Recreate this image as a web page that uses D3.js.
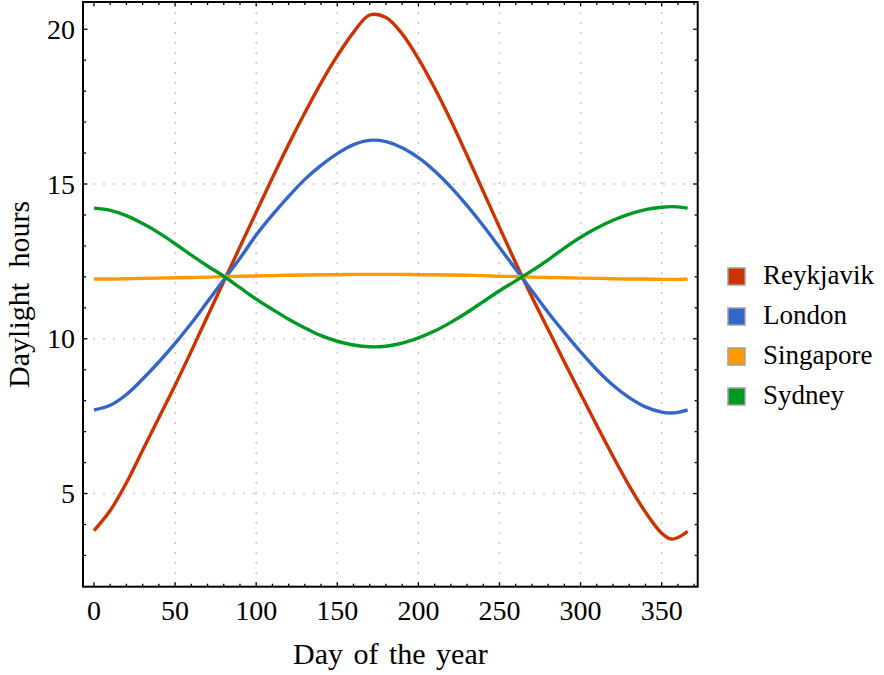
<!DOCTYPE html>
<html>
<head>
<meta charset="utf-8">
<script src="https://cdn.jsdelivr.net/npm/d3@7"></script>
<style>
    body { margin: 0; background: #fff; }
    text { font-family: "Liberation Serif", "Times New Roman", serif; fill: #000; }
</style>
</head>
<body>
<div id="plot"></div>
<script>
let days = [0, 10, 20, 30, 40, 50, 60, 70, 80, 90, 100, 110, 120, 130, 140, 150, 160, 170,
    180, 190, 200, 210, 220, 230, 240, 250, 260, 270, 280, 290, 300, 310, 320, 330, 340, 350, 356, 360, 366];

let reykjavik = [3.8, 4.45, 5.35, 6.4, 7.45, 8.5, 9.6, 10.73, 11.85, 12.97, 14.09, 15.2, 16.28, 17.3, 18.27, 19.14, 19.9, 20.46,
    20.38, 19.85, 19.05, 18.1, 17.05, 15.92, 14.76, 13.6, 12.45, 11.35, 10.3, 9.25, 8.22, 7.2, 6.2, 5.25, 4.4, 3.72, 3.53, 3.58, 3.78];
let london = [7.7, 7.85, 8.2, 8.7, 9.25, 9.85, 10.5, 11.2, 11.9, 12.6, 13.35, 14.0, 14.6, 15.15, 15.6, 15.98, 16.27, 16.41,
    16.37, 16.17, 15.85, 15.42, 14.9, 14.3, 13.65, 12.95, 12.25, 11.55, 10.85, 10.2, 9.58, 9.0, 8.5, 8.1, 7.8, 7.63, 7.6, 7.62, 7.7];
let singapore = [11.93, 11.93, 11.94, 11.95, 11.96, 11.97, 11.98, 11.99, 12.01, 12.02, 12.03, 12.04, 12.05, 12.06, 12.07, 12.07, 12.08, 12.08,
    12.08, 12.08, 12.07, 12.07, 12.06, 12.05, 12.04, 12.02, 12.01, 11.99, 11.98, 11.97, 11.96, 11.95, 11.94, 11.93, 11.93, 11.92, 11.92, 11.92, 11.93];
let sydney = [14.22, 14.15, 13.98, 13.72, 13.42, 13.07, 12.7, 12.35, 12.02, 11.65, 11.28, 10.95, 10.63, 10.35, 10.1, 9.92, 9.8, 9.74,
    9.76, 9.86, 10.03, 10.25, 10.53, 10.85, 11.2, 11.55, 11.87, 12.2, 12.55, 12.93, 13.28, 13.58, 13.83, 14.03, 14.17, 14.25, 14.27, 14.26, 14.22];

let cities = ['Reykjavik', 'London', 'Singapore', 'Sydney'];
let colors = ['#cc3300', '#3366cc', '#ff9900', '#009922'];

let xTicks = [0, 50, 100, 150, 200, 250, 300, 350];
let yTicks = [5, 10, 15, 20];
let xGrid = [50, 100, 150, 200, 250, 300, 350];
let yGrid = [5, 10, 15];

let svgWidth = 884;
let svgHeight = 675;

let frame = { left: 83, top: 2, right: 697.7, bottom: 586.7 };

let $svg = d3.select('#plot')
    .append('svg')
    .attr('width', svgWidth)
    .attr('height', svgHeight);

let xScale = d3.scaleLinear()
    .domain([-6.78, 372.2])
    .range([frame.left, frame.right]);

let yScale = d3.scaleLinear()
    .domain([1.99, 20.88])
    .range([frame.bottom, frame.top]);

// dotted grid
$svg.append('g').selectAll('line')
    .data(xGrid)
    .enter()
    .append('line')
    .attr('x1', d => xScale(d))
    .attr('x2', d => xScale(d))
    .attr('y1', frame.top)
    .attr('y2', frame.bottom)
    .attr('stroke', '#c8c8c8')
    .attr('stroke-width', 1.6)
    .attr('stroke-dasharray', '2,8');

$svg.append('g').selectAll('line')
    .data(yGrid)
    .enter()
    .append('line')
    .attr('x1', frame.left)
    .attr('x2', frame.right)
    .attr('y1', d => yScale(d))
    .attr('y2', d => yScale(d))
    .attr('stroke', '#c8c8c8')
    .attr('stroke-width', 1.6)
    .attr('stroke-dasharray', '2,8');

// lines
let seriesData = [reykjavik, london, singapore, sydney];

let line = d3.line()
    .x((d, i) => xScale(days[i]))
    .y(d => yScale(d))
    .curve(d3.curveCatmullRom.alpha(0.5));

$svg.append('g').selectAll('path')
    .data(seriesData)
    .enter()
    .append('path')
    .attr('d', d => line(d))
    .attr('fill', 'none')
    .attr('stroke', (d, i) => colors[i])
    .attr('stroke-width', 3.4);

// frame ticks, all pointing inward
let xMinor = d3.range(0, 371, 10);
let yMinor = d3.range(3, 21, 1);

function tickLen(major) { return major ? 4.5 : 3; }

let tickG = $svg.append('g').attr('stroke', '#000').attr('stroke-width', 1.3);

xMinor.forEach(d => {
    let major = d % 50 === 0;
    tickG.append('line')
        .attr('x1', xScale(d)).attr('x2', xScale(d))
        .attr('y1', frame.bottom).attr('y2', frame.bottom - tickLen(major));
    tickG.append('line')
        .attr('x1', xScale(d)).attr('x2', xScale(d))
        .attr('y1', frame.top).attr('y2', frame.top + tickLen(major));
});

yMinor.forEach(d => {
    let major = d % 5 === 0;
    tickG.append('line')
        .attr('y1', yScale(d)).attr('y2', yScale(d))
        .attr('x1', frame.left).attr('x2', frame.left + tickLen(major));
    tickG.append('line')
        .attr('y1', yScale(d)).attr('y2', yScale(d))
        .attr('x1', frame.right).attr('x2', frame.right - tickLen(major));
});

$svg.append('rect')
    .attr('x', frame.left)
    .attr('y', frame.top)
    .attr('width', frame.right - frame.left)
    .attr('height', frame.bottom - frame.top)
    .attr('fill', 'none')
    .attr('stroke', '#000')
    .attr('stroke-width', 2);

// tick labels
$svg.append('g').selectAll('text')
    .data(xTicks)
    .enter()
    .append('text')
    .attr('x', d => xScale(d))
    .attr('y', 620)
    .attr('text-anchor', 'middle')
    .style('font-size', '28px')
    .text(d => d);

$svg.append('g').selectAll('text')
    .data(yTicks)
    .enter()
    .append('text')
    .attr('x', 75)
    .attr('y', d => yScale(d) + 9.5)
    .attr('text-anchor', 'end')
    .style('font-size', '28px')
    .text(d => d);

// axis titles
$svg.append('text')
    .attr('x', (frame.left + frame.right) / 2)
    .attr('y', 664)
    .attr('text-anchor', 'middle')
    .style('font-size', '30px')
    .style('word-spacing', '3px')
    .text('Day of the year');

$svg.append('text')
    .attr('transform', `translate(29, ${(frame.top + frame.bottom) / 2}) rotate(-90)`)
    .attr('text-anchor', 'middle')
    .style('font-size', '30px')
    .style('word-spacing', '8px')
    .text('Daylight hours');

// legend
let legend = $svg.append('g')
    .selectAll('g')
    .data(cities)
    .enter()
    .append('g')
    .attr('transform', (d, i) => `translate(728, ${276.5 + i * 40})`);

legend.append('rect')
    .attr('x', 0)
    .attr('y', -8.5)
    .attr('width', 17)
    .attr('height', 17)
    .attr('fill', (d, i) => colors[i])
    .attr('stroke', '#a0a0a0')
    .attr('stroke-width', 1.5);

legend.append('text')
    .attr('x', 35)
    .attr('y', 7)
    .style('font-size', '27px')
    .text(d => d);
</script>
</body>
</html>
